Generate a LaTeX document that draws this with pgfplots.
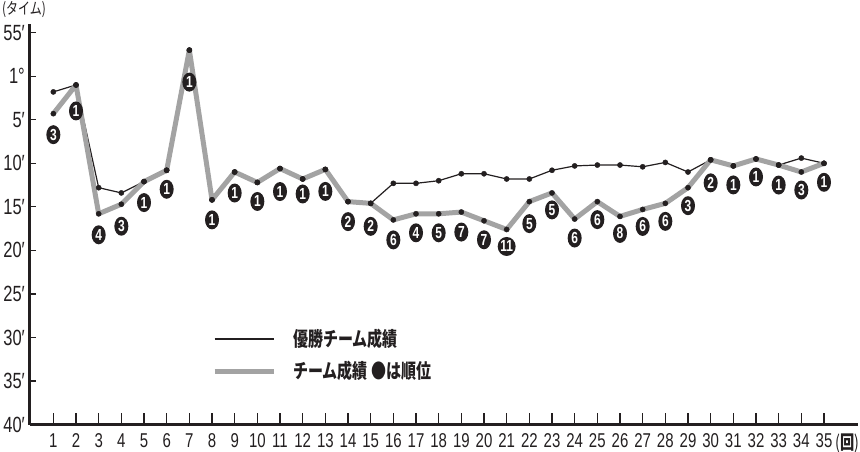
\documentclass[border=0pt]{standalone}
\usepackage{fontspec}
\usepackage{pgfplots}
\usepackage{pgfplotstable}
\pgfplotsset{compat=1.18}
\usetikzlibrary{shapes.geometric}
\setmainfont{Liberation Sans}[FakeStretch=0.75]
\newfontfamily\jp{Noto Sans CJK JP}[FakeStretch=0.75]

\definecolor{ink}{HTML}{231F20}
\definecolor{lgray}{HTML}{A3A3A3}

% n = round, w = winning team time, t = team time (minutes after 1:00 -> 60 = 1:00), r = rank, dy = label offset
\pgfplotstableread{
n  w     t     r   dy
1  61.8  64.3  3   21
2  61.0  61.0  1   26
3  72.8  75.8  4   21
4  73.4  74.7  3   22
5  72.1  72.1  1   21
6  70.8  70.8  1   19
7  57.0  57.0  1   32
8  74.2  74.2  1   20
9  71.0  71.0  1   21
10 72.2  72.2  1   19
11 70.6  70.6  1   23
12 71.8  71.8  1   15
13 70.7  70.7  1   22
14 74.4  74.4  2   20
15 74.6  74.6  2   23
16 72.3  76.5  6   20
17 72.3  75.8  4   19
18 72.0  75.8  5   19
19 71.2  75.6  7   20
20 71.2  76.6  7   19
21 71.8  77.6  11  17
22 71.8  74.4  5   22
23 70.8  73.4  5   17
24 70.3  76.4  6   19
25 70.2  74.4  6   18
26 70.2  76.1  8   17
27 70.4  75.3  6   17
28 69.9  74.6  6   18
29 71.0  72.8  3   18
30 69.6  69.6  2   23
31 70.3  70.3  1   19
32 69.5  69.5  1   18
33 70.2  70.2  1   20
34 69.4  71.0  3   18
35 70.0  70.0  1   19
}\results

\begin{document}
\begin{tikzpicture}
\useasboundingbox (-30pt,-26.5pt) rectangle (830pt,424.5pt);
\begin{axis}[
    scale only axis, width=828pt, height=400.5pt,
    xmin=-0.03, xmax=36.5, ymin=-100, ymax=-54,
    axis lines=left,
    axis line style={-, line width=3pt, color=ink},
    tick align=inside, major tick length=12pt,
    xtick={1,...,35},
    xticklabel={\pgfmathparse{int(\tick)}\pgfmathresult},
    xticklabel style={anchor=north, inner sep=0pt, yshift=-9pt, text=ink,
      font=\fontsize{20}{20}\selectfont},
    xtick style={line width=1.2pt, color=ink},
    ytick={-100,-95,...,-55},
    yticklabels={40′,35′,30′,25′,20′,15′,10′,5′,1°,55′},
    ytick style={draw=none},
    yticklabel style={anchor=east, inner sep=0pt, xshift=-5pt, text=ink,
      font=\fontsize{22}{22}\selectfont},
    xlabel={(\textbf{回})},
    every axis x label/.style={at={(rel axis cs:1,0)}, anchor=north east,
      inner sep=0pt, xshift=2pt, yshift=-9pt, text=ink, font=\jp\fontsize{19}{19}\selectfont},
    ylabel={(タイム)},
    every axis y label/.style={at={(rel axis cs:0,1)}, anchor=center,
      xshift=-6pt, yshift=14.5pt, text=ink, font=\jp\fontsize{16}{16}\selectfont},
    legend style={draw=none, fill=none, at={(rel axis cs:0.2198,0.1735)}, anchor=west,
      inner sep=0pt, row sep=13pt,
      /tikz/every odd column/.append style={column sep=17pt},
      nodes={inner sep=0pt, text height=17pt, text depth=2pt, text=ink,
        font=\jp\bfseries\fontsize{20}{20}\selectfont}},
    legend cell align=left,
    legend image code/.code={\draw[#1] (0pt,0pt) -- (59pt,0pt);},
  ]
  \addplot[ink, line width=1.2pt, line join=round] table[x=n, y expr=-\thisrow{w}] {\results};
  \addlegendentry{優勝チーム成績}
  \addplot[lgray, line width=5pt, line join=round] table[x=n, y expr=-\thisrow{t}] {\results};
  \addlegendentry{チーム成績\,●は順位}
  \addplot[only marks, mark=*, mark size=2.6pt, ink, forget plot]
    table[x=n, y expr=-\thisrow{w}] {\results};
  \addplot[only marks, mark=*, mark size=2.6pt, ink, forget plot,
    nodes near coords, point meta=explicit symbolic,
    visualization depends on={\thisrow{dy} \as \dy},
    every node near coord/.style={ellipse, fill=ink, text=white, inner sep=0pt,
      minimum width=14pt, minimum height=19pt, anchor=center, yshift=-\dy pt,
      font=\bfseries\fontsize{16}{16}\selectfont}]
    table[x=n, y expr=-\thisrow{t}, meta=r] {\results};
\end{axis}
% second layer: only the short y tick marks
\begin{axis}[
    scale only axis, width=828pt, height=400.5pt,
    xmin=-0.03, xmax=36.5, ymin=-100, ymax=-54,
    axis lines=left, axis line style={draw=none},
    tick align=inside, major tick length=6pt,
    xtick=\empty,
    ytick={-95,-90,...,-55}, yticklabels={,,,,,,,,},
    ytick style={line width=1.2pt, color=ink},
  ]
\end{axis}
\end{tikzpicture}
\end{document}
